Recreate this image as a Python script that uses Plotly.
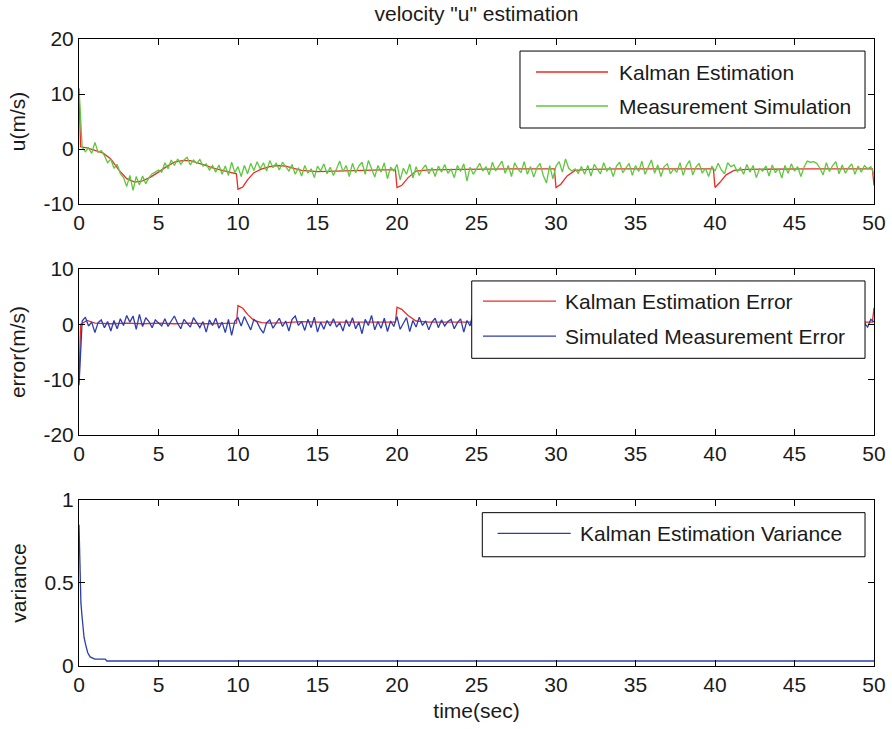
import plotly.graph_objects as go

# ---------------- data ----------------
DT = 0.2  # sampling step of the simulated measurements (s)

# Measurement simulation u (m/s), one value per DT from t=0 to t=50
U_MEAS = [
    11, 0.3, -0.5, 0.2, -0.8, 1.2, -0.6, -0.3, -1.2, -2.5,
    -1.8, -3.5, -2.8, -4.5, -5.2, -6.8, -4.8, -7.5, -5.0, -6.5,
    -4.9, -6.3, -5.2, -4.5, -4.2, -3.8, -4.2, -2.5, -3.6, -2.0,
    -3.0, -1.8, -2.8, -2.0, -1.5, -2.9, -2.0, -2.6, -1.9, -3.1,
    -2.7, -3.8, -3.0, -4.2, -2.9, -4.6, -3.1, -4.8, -2.4, -4.3,
    -3.2, -5.0, -3.0, -4.5, -2.6, -3.9, -2.3, -3.6, -2.5, -4.0,
    -2.1, -3.4, -2.6, -3.8, -2.4, -3.2, -4.0, -2.8, -4.6, -3.4,
    -4.9, -3.0, -4.4, -3.6, -5.2, -3.1, -4.0, -2.7, -4.5, -3.3,
    -4.8, -3.6, -2.2, -4.1, -3.0, -5.0, -2.6, -4.3, -3.1, -2.4,
    -4.6, -2.1, -3.8, -5.1, -3.0, -4.2, -2.5, -5.4, -3.3, -4.0,
    -2.8, -5.6, -3.5, -4.6, -2.7, -5.3, -3.2, -4.8, -3.6, -2.9,
    -4.5, -3.4, -5.0, -3.1, -4.2, -2.8, -4.4, -3.7, -5.2, -3.0,
    -4.1, -2.7, -5.8, -3.3, -4.6, -3.5, -2.6, -4.0, -3.2, -4.7,
    -2.4, -4.0, -3.1, -2.2, -4.4, -3.0, -5.0, -2.5, -3.6, -4.3,
    -2.3, -4.6, -3.2, -5.1, -3.4, -2.6, -4.8, -6.2, -3.0, -5.4,
    -3.1, -2.3, -4.2, -1.8, -3.5, -4.0, -3.6, -4.4, -3.2, -4.6,
    -3.0, -4.9, -2.8, -3.7, -4.5, -2.5, -4.0, -3.3, -5.0, -3.1,
    -2.4, -4.3, -3.5, -2.6, -4.8, -3.0, -4.1, -2.2, -4.6, -3.4,
    -2.0, -4.4, -2.9, -5.0, -3.2, -2.7, -4.5, -3.6, -4.2, -2.5,
    -4.8, -3.0, -2.1, -4.7, -3.3, -2.6, -4.4, -3.5, -5.0, -3.1,
    -4.0, -2.6, -3.8, -4.5, -2.5, -3.2, -2.9, -4.1, -3.4, -4.6,
    -2.8, -4.2, -3.0, -5.2, -3.6, -4.0, -3.1, -4.9, -2.9, -4.3,
    -3.5, -5.3, -3.0, -4.4, -2.7, -4.0, -3.2, -5.0, -3.3, -2.2,
    -2.4, -2.3, -2.6, -3.5, -4.7, -2.5, -4.1, -3.0, -2.3, -4.5,
    -2.9, -4.4, -3.4, -2.7, -4.6, -3.1, -4.2, -3.0, -3.6, -3.2,
    -4.6,
]

# Simulated measurement error (m/s), one value per DT
ERR_MEAS = [
    -11, 0.6, 1.3, -0.3, 0.4, -1.5, 0.3, 0.8, -0.6, 0.5,
    -1.2, 0.7, -0.8, 1.0, -0.2, 1.6, 0.4, 1.5, -0.9, 1.8,
    -0.4, 1.2, 0.5, -0.6, 0.8, 0.2, -0.3, 1.0, -0.4, 0.6,
    1.5, 0.2, -0.8, 0.9, 0.1, -0.5, 1.2, 0.3, -0.6, 0.5,
    -1.4, 0.8, -0.2, 1.1, -0.7, 0.4, -1.5, 0.9, -2.0, 0.6,
    1.2, -0.3, 1.4, 0.2, -1.0, 0.9, 0.4, -0.8, -1.6, 0.3,
    0.8, -0.7, 0.2, 1.1, -0.4, 0.6, -1.2, 0.9, 1.5, -0.2,
    0.5, -1.1, 0.9, -0.6, 1.3, -1.4, 0.4, -0.9, 0.7, -0.3,
    1.0, -0.5, 0.3, -1.2, 0.8, -0.4, 1.2, -0.8, 0.4, -1.7,
    0.9, -0.2, 1.6, -1.0, 0.5, -0.7, 1.1, -1.3, 0.6, -0.4,
    1.4, -0.9, 0.2, 1.2, -1.3, 0.7, -0.5, 1.3, -0.2, 0.6,
    -1.0, 0.4, 1.1, -0.6, 0.8, -0.3, 0.5, 0.9, -0.8, 0.3,
    1.0, -1.4, 0.7, -0.3, 2.4, 0.8, -0.6, 1.0, -0.4, 0.5,
    0.9, -0.5, 1.3, -0.2, 0.6, -1.1, 0.8, 0.3, -0.7, 1.2,
    -0.4, 0.7, -1.0, 1.5, 0.2, -0.6, 0.9, -1.3, 0.5, 0.1,
    1.1, -0.8, 0.4, 1.6, -0.5, 0.3, -1.2, 0.8, -0.2, 0.6,
    -0.9, 1.0, 0.2, -1.4, 0.7, -0.3, 1.3, -0.6, 0.4, -1.0,
    0.8, 0.1, -0.7, 1.2, -0.4, 0.9, -1.1, 0.5, -0.2, 1.4,
    -0.6, 0.3, 1.0, -1.2, 0.6, -0.1, 0.9, -0.8, 1.5, -0.3,
    0.4, -1.0, 0.7, 1.1, -0.5, 0.2, -1.3, 0.8, -0.4, 0.6,
    1.2, -0.7, 0.3, -1.1, 0.9, -0.2, 0.5, 1.3, -0.9, 0.4,
    -0.3, 1.0, -1.2, 0.6, 0.2, -0.8, 1.1, -0.4, 0.7, -1.0,
    0.5, 1.4, -0.6, 0.3, -1.3, 0.8, -0.1, 1.0, -0.7, 0.4,
    -1.1, 0.9, 0.2, -0.5, 1.2, -0.3, 0.6, -0.9, 1.3, 0.1,
    -0.6, 0.8, -1.0, 0.4, 1.1, -0.4, 0.7, 0.2, -0.5, 0.9,
    0.4,
]

# Kalman estimate u (m/s)
KU_T = [0, 0.1, 0.5, 1.0, 1.5, 2.0, 2.5, 3.0, 3.5, 4.0,
        4.5, 5.0, 5.5, 6.0, 6.5, 7.0, 7.5, 8.0, 8.5, 9.0,
        9.5, 9.9, 10.0, 10.3, 10.6, 11.0, 11.5, 12.0, 12.5, 13.0,
        13.5, 14.0, 15.0, 16.0, 17.0, 18.0, 19.0, 19.9, 20.0, 20.3,
        20.7, 21.2, 22, 24, 26, 28, 29.9, 30.0, 30.3, 30.7,
        31.2, 32, 34, 36, 38, 39.9, 40.0, 40.3, 40.7, 41.2,
        42, 44, 46, 48, 49.9, 50]
KU_V = [11, 0.4, 0.2, -0.3, -0.7, -1.8, -3.8, -5.4, -6.0, -5.8,
        -5.1, -4.2, -3.2, -2.4, -2.1, -2.1, -2.5, -3.0, -3.5, -3.9,
        -4.3, -4.5, -7.3, -6.9, -5.6, -4.3, -3.6, -3.2, -3.0, -3.1,
        -3.5, -3.9, -4.1, -4.0, -3.9, -3.9, -3.8, -3.8, -7.0, -6.6,
        -5.2, -4.0, -3.8, -3.7, -3.6, -3.6, -3.6, -7.0, -6.4, -4.9,
        -3.9, -3.7, -3.6, -3.6, -3.6, -3.6, -7.0, -6.1, -4.7, -3.9,
        -3.7, -3.6, -3.6, -3.6, -3.6, -6.6]

# Kalman estimation error (m/s)
KE_T = [0, 0.1, 0.5, 1, 2, 3, 4, 5, 6, 7,
        8, 9, 9.9, 10.0, 10.3, 10.6, 11.0, 11.5, 12, 13,
        14, 15, 16, 17, 18, 19, 19.9, 20.0, 20.3, 20.7,
        21.2, 22, 24, 26, 28, 29.9, 30.0, 30.3, 30.7, 31.2,
        32, 34, 36, 38, 39.9, 40.0, 40.3, 40.7, 41.2, 42,
        44, 46, 48, 49.9, 50]
KE_V = [-10.5, 0.0, 0.7, 0.2, 0.1, 0.2, 0.1, 0.2, 0.1, 0.2,
        0.1, 0.2, 0.2, 3.4, 2.9, 1.8, 0.7, 0.3, 0.2, 0.3,
        0.5, 0.4, 0.4, 0.3, 0.4, 0.4, 0.4, 3.1, 2.7, 1.6,
        0.6, 0.4, 0.4, 0.4, 0.4, 0.4, 3.2, 2.6, 1.5, 0.5,
        0.4, 0.4, 0.4, 0.4, 0.4, 3.2, 2.5, 1.4, 0.5, 0.4,
        0.4, 0.4, 0.4, 0.4, 3.0]

# Kalman estimation variance
VAR_T = [0, 0.06, 0.12, 0.19, 0.25, 0.32, 0.44, 0.55, 0.7, 1.0, 1.65, 1.75, 50]
VAR_V = [0.85, 0.52, 0.38, 0.30, 0.22, 0.17, 0.12, 0.08, 0.055, 0.042, 0.042, 0.03, 0.03]

X_TICKS = [0, 5, 10, 15, 20, 25, 30, 35, 40, 45, 50]
Y1_TICKS = [-10, 0, 10, 20]
Y1_TEXT = ["-10", "0", "10", "20"]
Y2_TICKS = [-20, -10, 0, 10]
Y2_TEXT = ["-20", "-10", "0", "10"]
Y3_TICKS = [0, 0.5, 1]
Y3_TEXT = ["0", "0.5", "1"]

T_MEAS = [round(i * DT, 1) for i in range(len(U_MEAS))]
T_ERR = [round(i * DT, 1) for i in range(len(ERR_MEAS))]

# ---------------- style ----------------
RED = "#ee2a24"
GREEN = "#5cc83e"
BLUE = "#2b3db0"
FONT = "Liberation Sans, Arial, Helvetica, sans-serif"
FS = 21
TXT = "#1a1a1a"
LW = 1.3

fig = go.Figure()
fig.add_trace(go.Scatter(x=KU_T, y=KU_V, mode="lines", name="Kalman Estimation",
                         line=dict(color=RED, width=LW), xaxis="x", yaxis="y"))
fig.add_trace(go.Scatter(x=T_MEAS, y=U_MEAS, mode="lines", name="Measurement Simulation",
                         line=dict(color=GREEN, width=LW), xaxis="x", yaxis="y"))
fig.add_trace(go.Scatter(x=KE_T, y=KE_V, mode="lines", name="Kalman Estimation Error",
                         line=dict(color=RED, width=LW), xaxis="x2", yaxis="y2"))
fig.add_trace(go.Scatter(x=T_ERR, y=ERR_MEAS, mode="lines", name="Simulated Measurement Error",
                         line=dict(color=BLUE, width=LW), xaxis="x2", yaxis="y2"))
fig.add_trace(go.Scatter(x=VAR_T, y=VAR_V, mode="lines", name="Kalman Estimation Variance",
                         line=dict(color=BLUE, width=LW), xaxis="x3", yaxis="y3"))

axis_common = dict(showline=True, linecolor="black", linewidth=1, mirror="ticks",
                   ticks="inside", ticklen=6, tickwidth=1, tickcolor="black",
                   showgrid=False, zeroline=False, automargin=False,
                   tickfont=dict(family=FONT, size=FS, color=TXT))

xa = dict(axis_common, range=[0, 50], tickvals=X_TICKS, domain=[0, 1])
fig.update_layout(
    template="none",
    xaxis=dict(xa, anchor="y"),
    xaxis2=dict(xa, anchor="y2"),
    xaxis3=dict(xa, anchor="y3",
                title=dict(text="time(sec)", font=dict(family=FONT, size=FS, color=TXT), standoff=8)),
    yaxis=dict(axis_common, range=[-10, 20], tickvals=Y1_TICKS, ticktext=Y1_TEXT,
               domain=[0.7368, 1], anchor="x",
               title=dict(text="u(m/s)", font=dict(family=FONT, size=FS, color=TXT), standoff=12)),
    yaxis2=dict(axis_common, range=[-20, 10], tickvals=Y2_TICKS, ticktext=Y2_TEXT,
                domain=[0.3684, 0.6332], anchor="x2",
                title=dict(text="error(m/s)", font=dict(family=FONT, size=FS, color=TXT), standoff=12)),
    yaxis3=dict(axis_common, range=[0, 1], tickvals=Y3_TICKS, ticktext=Y3_TEXT,
                domain=[0, 0.2648], anchor="x3",
                title=dict(text="variance", font=dict(family=FONT, size=FS, color=TXT), standoff=12)),
    title=dict(text='velocity "u" estimation', x=0.5, xref="paper", xanchor="center",
               y=1 - 14 / 729, yref="container", yanchor="middle",
               font=dict(family=FONT, size=FS, color=TXT)),
    width=892, height=729,
    margin=dict(l=79, r=18, t=39, b=63, autoexpand=False),
    plot_bgcolor="white", paper_bgcolor="white",
    showlegend=False,
)

# ---------------- boxed legends (MATLAB style) ----------------
legends = [
    # (axis suffix, box [x0,x1,y0,y1], line [x0,x1], text x, rows [(y, color, label)])
    ("", [0.5547, 0.9887, 0.4606, 0.927], [0.5748, 0.6654], 0.6767,
     [(0.80, RED, "Kalman Estimation"), (0.594, GREEN, "Measurement Simulation")]),
    ("2", [0.4940, 0.9887, 0.462, 0.928], [0.5082, 0.6000], 0.6088,
     [(0.807, RED, "Kalman Estimation Error"), (0.596, BLUE, "Simulated Measurement Error")]),
    ("3", [0.5073, 0.9887, 0.658, 0.9235], [0.5266, 0.6185], 0.628,
     [(0.799, BLUE, "Kalman Estimation Variance")]),
]
for suf, box, ln, tx, rows in legends:
    xr = "x%s domain" % suf
    yr = "y%s domain" % suf
    fig.add_shape(type="rect", xref=xr, yref=yr, x0=box[0], x1=box[1], y0=box[2], y1=box[3],
                  fillcolor="white", line=dict(color="black", width=1), layer="above")
    for yy, col, label in rows:
        fig.add_shape(type="line", xref=xr, yref=yr, x0=ln[0], x1=ln[1], y0=yy, y1=yy,
                      line=dict(color=col, width=LW), layer="above")
        fig.add_annotation(xref=xr, yref=yr, x=tx, y=yy, text=label, showarrow=False,
                           xanchor="left", yanchor="middle",
                           font=dict(family=FONT, size=FS, color=TXT))

fig.write_html("out.html")
